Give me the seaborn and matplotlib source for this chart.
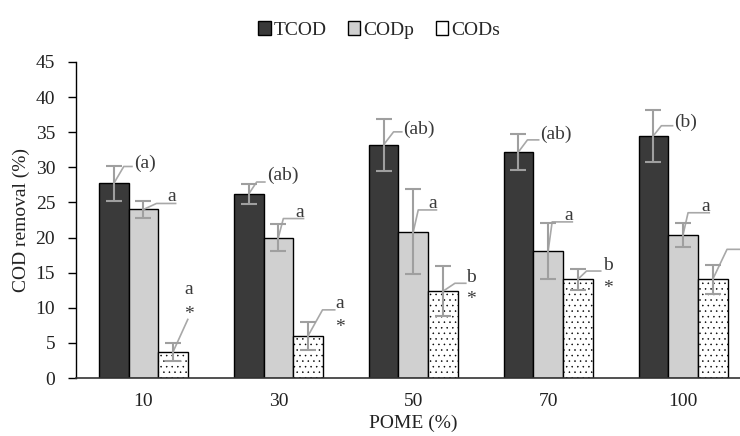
import matplotlib
matplotlib.use("Agg")
import matplotlib.pyplot as plt
from matplotlib.patches import Patch
import seaborn as sns
import pandas as pd

# ---------------- data ----------------
pome = ["10", "30", "50", "70", "100"]
series = ["TCOD", "CODp", "CODs"]
tcod = [27.7, 26.2, 33.2, 32.2, 34.5]
tcod_err = [2.45, 1.4, 3.7, 2.6, 3.7]
codp = [24.0, 20.0, 20.8, 18.1, 20.4]
codp_err = [1.25, 1.9, 6.05, 4.0, 1.7]
cods = [3.75, 6.0, 12.35, 14.05, 14.05]
cods_err = [1.3, 2.0, 3.55, 1.5, 2.05]

tcod_labels = ["(a)", "(ab)", "(ab)", "(ab)", "(b)"]
codp_labels = ["a", "a", "a", "a", "a"]
cods_labels = ["a", "a", "b", "b", "b"]
cods_stars = ["*", "*", "*", "*", ""]

# ---------------- style ----------------
sns.set_theme(style="white")
plt.rcParams["font.family"] = ["Liberation Serif", "DejaVu Serif"]
plt.rcParams["hatch.linewidth"] = 0.35
FS = 14

colors = ["#3a3a3a", "#d0d0d0", "#ffffff"]
err_col = "#9f9f9f"
lead_col = "#a8a8a8"
txt_col = "#3a3a3a"
dot_col = "#444444"

df = pd.DataFrame({
    "POME": pome * 3,
    "series": [s for s in series for _ in pome],
    "value": tcod + codp + cods,
})

fig = plt.figure(figsize=(7.4, 4.36), dpi=100)
ax = fig.add_axes([76 / 740, 1 - 378 / 436, (750.5 - 76) / 740, (378 - 62) / 436])

sns.barplot(data=df, x="POME", y="value", hue="series", order=pome,
            hue_order=series, palette=colors, saturation=1, width=0.66,
            edgecolor="black", linewidth=1.0, errorbar=None, ax=ax, zorder=2)
if ax.legend_ is not None:
    ax.legend_.remove()

bar_conts = list(ax.containers)[:3]
for p in bar_conts[2]:
    p.set_hatch("...")
    if hasattr(p, "set_hatchcolor"):
        p.set_hatchcolor(dot_col)

ax.set_ylim(0, 45)
ax.set_xlim(-0.5, 4.5)
ax.set_yticks(range(0, 46, 5))
ax.tick_params(axis="y", length=6, width=1, color="black", direction="out",
               pad=9, labelsize=FS, left=True)
ax.tick_params(axis="x", length=0, pad=11, labelsize=FS)
for lab in ax.get_xticklabels() + ax.get_yticklabels():
    lab.set_color("#222222")
ax.set_xlabel("POME (%)", fontsize=FS, color="#222222", labelpad=3)
ax.set_ylabel("COD removal (%)", fontsize=FS, color="#222222", labelpad=4)
sns.despine(ax=ax)
ax.spines["left"].set_color("black")
ax.spines["bottom"].set_color("#333333")
ax.spines["left"].set_linewidth(1.0)
ax.spines["bottom"].set_linewidth(1.2)

errs = [tcod_err, codp_err, cods_err]
tops = []
for k, cont in enumerate(bar_conts):
    xs = [b.get_x() + b.get_width() / 2 for b in cont]
    ys = [b.get_height() for b in cont]
    tops.append(list(zip(xs, ys)))
    ax.errorbar(xs, ys, yerr=errs[k], fmt="none", ecolor=err_col,
                elinewidth=1.5, capsize=5.5, capthick=1.5, zorder=4)

# ---------------- annotations (pixel offsets, y down) ----------------
to_disp = ax.transData.transform
to_data = ax.transData.inverted().transform


def pt(anchor, dx, dy):
    px, py = to_disp(anchor)
    return to_data((px + dx, py - dy))


def poly(anchor, pts):
    P = [anchor] + [pt(anchor, dx, dy) for dx, dy in pts]
    ax.plot([p[0] for p in P], [p[1] for p in P], color=lead_col, lw=1.2,
            clip_on=False, zorder=3, solid_capstyle="butt")


def txt(anchor, dx, dy, s, ha="left", va="baseline", size=FS):
    x, y = pt(anchor, dx, dy)
    ax.text(x, y, s, ha=ha, va=va, fontsize=size, color=txt_col,
            clip_on=False, zorder=5)


# TCOD: (elbow dx, elbow dy, end dx, text centre dy)
tcod_layout = [(10, -17, 19, -21), (8, -12, 17, -19), (10, -13, 19, -16),
               (9, -12, 21, -18), (8, -10, 20, -14)]
for i, (ex, ey, end, tc) in enumerate(tcod_layout):
    a = tops[0][i]
    poly(a, [(ex, ey), (end, ey)])
    txt(a, end + 1, tc + 5, tcod_labels[i])

# CODp: (elbow dx, elbow dy, end dx)
codp_layout = [(13, -6, 33), (5, -19, 26), (5, -22, 24), (4, -29, 25),
               (5, -22, 27)]
for i, (ex, ey, end) in enumerate(codp_layout):
    a = tops[1][i]
    poly(a, [(ex, ey), (end, ey)])
    txt(a, end, ey - 2, codp_labels[i], ha="right")

# CODs: (elbow dx, elbow dy, end dx, letter cx, letter cy, star cy)
cods_layout = [(15, -33, None, 16, -62, -44), (14.5, -26, 27.5, 32, -32, -15),
               (12, -8, 23.7, 28, -16, 2), (8.7, -8.3, 23.7, 29.7, -16.6, 2.4),
               (14.3, -30, 30, 34, -38, -20)]
for i, (ex, ey, end, lx, ly, sy) in enumerate(cods_layout):
    a = tops[2][i]
    pts = [(ex, ey)] if end is None else [(ex, ey), (end, ey)]
    poly(a, pts)
    off = 4.5 if cods_labels[i] == "a" else 7
    txt(a, lx, ly + off, cods_labels[i], ha="center")
    if cods_stars[i]:
        txt(a, lx, sy + 11, cods_stars[i], ha="center")

# ---------------- legend ----------------
leg_hatch = Patch(facecolor=colors[2], edgecolor="black", lw=1.0, hatch=".")
if hasattr(leg_hatch, "set_hatchcolor"):
    leg_hatch.set_hatchcolor(dot_col)
handles = [Patch(facecolor=colors[0], edgecolor="black", lw=1.0),
           Patch(facecolor=colors[1], edgecolor="black", lw=1.0),
           leg_hatch]
fig.legend(handles, series, loc="center", bbox_to_anchor=(379 / 740, 1 - 30 / 436),
           ncol=3, frameon=False, fontsize=FS, handlelength=0.65,
           handleheight=0.75, handletextpad=0.15, columnspacing=1.1,
           borderpad=0)

fig.savefig("out.png", dpi=100)
